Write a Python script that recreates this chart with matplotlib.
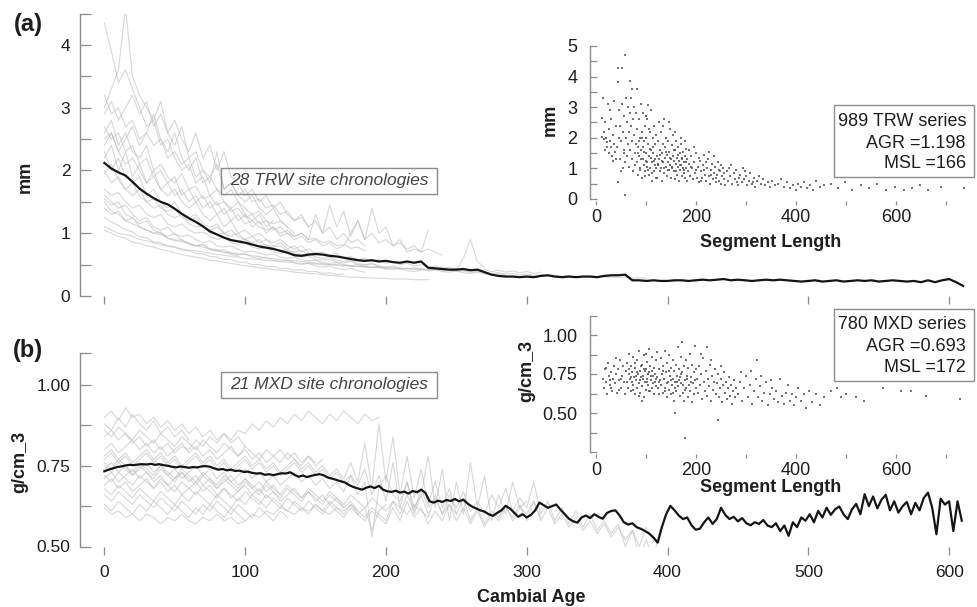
import numpy as np
import matplotlib
matplotlib.use('Agg')
import matplotlib.pyplot as plt
from matplotlib.patches import Rectangle

plt.rcParams['font.family'] = ['Liberation Sans', 'DejaVu Sans']

W, H = 977, 607

# ---------------- data ----------------
STEP_SITE = 5        # years between stored values of site chronologies
STEP_TRW_MEAN = 5
STEP_MXD_MEAN = 3

trw_mean = [2.12,2.03,1.97,1.92,1.82,1.71,1.63,1.56,1.50,1.46,
            1.39,1.31,1.24,1.18,1.11,1.03,0.98,0.93,0.89,0.87,
            0.85,0.82,0.79,0.77,0.75,0.72,0.69,0.65,0.64,0.66,
            0.67,0.66,0.64,0.63,0.61,0.59,0.57,0.56,0.57,0.55,
            0.56,0.54,0.53,0.55,0.53,0.55,0.45,0.44,0.43,0.42,
            0.42,0.43,0.41,0.42,0.38,0.34,0.32,0.31,0.31,0.30,
            0.31,0.30,0.32,0.33,0.31,0.30,0.31,0.30,0.31,0.31,
            0.30,0.32,0.33,0.33,0.34,0.25,0.25,0.24,0.25,0.24,
            0.24,0.25,0.25,0.24,0.25,0.26,0.25,0.26,0.27,0.25,
            0.26,0.25,0.24,0.25,0.26,0.25,0.26,0.25,0.24,0.23,
            0.24,0.25,0.23,0.24,0.25,0.23,0.24,0.25,0.24,0.25,
            0.23,0.24,0.25,0.24,0.23,0.24,0.22,0.25,0.22,0.25,
            0.27,0.22,0.16]

mxd_mean = [0.733,0.738,0.742,0.746,0.748,0.751,0.753,0.752,0.754,0.755,0.754,0.756,0.753,0.755,0.752,0.750,0.747,0.745,0.748,0.746,0.744,
            0.746,0.745,0.748,0.749,0.747,0.742,0.738,0.740,0.736,0.738,0.734,0.735,0.731,0.732,0.728,0.726,0.727,0.722,0.724,0.721,
            0.724,0.727,0.726,0.730,0.722,0.716,0.720,0.715,0.719,0.722,0.724,0.720,0.713,0.710,0.706,0.702,0.698,0.690,0.684,0.680,
            0.676,0.682,0.686,0.681,0.688,0.676,0.671,0.669,0.673,0.667,0.670,0.664,0.672,0.668,0.676,0.666,0.640,0.636,0.642,0.638,
            0.644,0.641,0.647,0.640,0.645,0.633,0.624,0.618,0.612,0.608,0.600,0.595,0.604,0.612,0.626,0.618,0.605,0.592,0.600,0.590,
            0.598,0.612,0.636,0.628,0.620,0.625,0.630,0.614,0.600,0.586,0.578,0.574,0.590,0.596,0.588,0.600,0.592,0.586,0.604,0.610,
            0.612,0.596,0.575,0.568,0.572,0.560,0.555,0.548,0.540,0.528,0.512,0.560,0.600,0.626,0.612,0.596,0.585,0.590,0.566,0.552,
            0.555,0.575,0.590,0.570,0.585,0.620,0.598,0.585,0.592,0.578,0.588,0.572,0.566,0.575,0.570,0.582,0.565,0.560,0.572,0.548,
            0.565,0.533,0.575,0.560,0.590,0.580,0.600,0.575,0.610,0.590,0.620,0.598,0.615,0.624,0.600,0.585,0.615,0.632,0.600,0.662,
            0.625,0.655,0.618,0.645,0.660,0.612,0.640,0.605,0.625,0.638,0.600,0.635,0.612,0.650,0.667,0.620,0.538,0.648,0.630,0.640,
            0.548,0.640,0.580]

trw_site_01 = [4.35,3.9,3.4,3.6,3.3,3.0,2.7,2.8,2.4,2.5,2.2,2.0,2.1,1.8,1.9,1.6,1.7,1.5,1.4,1.5,1.3,1.2,1.3,1.1,1.2]
trw_site_02 = [3.0,3.3,3.6,4.6,3.5,3.2,3.0,2.8,3.1,2.6,2.4,2.7,2.2,2.3,2.0,1.9,2.1,1.7,1.8,1.6,1.5,1.6,1.4,1.3,1.4,1.2,1.1]
trw_site_03 = [2.9,3.1,2.8,3.0,3.2,2.9,3.1,2.7,2.9,2.6,2.8,2.5,2.3,2.6,2.2,2.4,2.0,2.3,1.9,1.8,1.6,1.7,1.5,1.6,1.4,1.5,1.3,1.2,1.3,1.1,1.2,1.0,1.1,0.9,1.0,0.85,0.9,0.8]
trw_site_04 = [2.7,2.5,2.6,2.3,2.4,2.1,2.2,1.9,2.0,1.8,1.9,1.6,1.7,1.5,1.6,1.4,1.5,1.3,1.4,1.2,1.3,1.1,1.2,1.0,1.1,0.95,1.0,0.9,0.95,0.85,0.9,0.8,0.85,0.75,0.8,1.0,1.2,0.9,1.4,1.0,1.1,0.8,0.9,0.7,0.75,0.7,1.05]
trw_site_05 = [2.5,2.6,2.3,2.1,2.2,2.0,1.8,1.9,1.7,1.6,1.7,1.5,1.4,1.5,1.3,1.2,1.3,1.1,1.2,1.0,1.05,0.95,1.0,0.9,0.85,0.9,0.8,0.75,0.8,0.7]
trw_site_06 = [2.3,2.0,2.2,1.9,1.8,1.9,1.6,1.7,1.5,1.4,1.5,1.3,1.25,1.3,1.15,1.1,1.15,1.0,1.05,0.95,0.9,0.95,0.85,0.9,0.8,0.85,0.75,0.8,0.7,0.75,0.68,0.7,0.65,0.68,0.6,0.63,0.58,0.6,0.55,0.58,0.52,0.55,0.5,0.52,0.48,0.5,0.45,0.48,0.44,0.46,0.42,0.6,0.9,0.55,0.45]
trw_site_07 = [1.95,2.1,1.85,1.7,1.8,1.6,1.5,1.55,1.4,1.35,1.4,1.25,1.2,1.25,1.1,1.05,1.1,1.0,0.95,1.0,0.9,0.85,0.9,0.8,0.78,0.8,0.72,0.7,0.73,0.66,0.64]
trw_site_08 = [1.7,1.6,1.65,1.5,1.4,1.45,1.3,1.25,1.3,1.15,1.1,1.15,1.05,1.0,1.02,0.95,0.9,0.93,0.85,0.82,0.85,0.78,0.75,0.77,0.7,0.68,0.7,0.64,0.62,0.64,0.58,0.57,0.59,0.54,0.53,0.55,0.5,0.49,0.51,0.47]
trw_site_09 = [1.6,1.5,1.4,1.45,1.3,1.2,1.25,1.1,1.05,1.1,0.98,0.95,0.97,0.9,0.85,0.88,0.8,0.78,0.8,0.74,0.7,0.72,0.68,0.65,0.67,0.62,0.6,0.62,0.58,0.56,0.57,0.53,0.52,0.53,0.5,0.48,0.5,0.46,0.45,0.47,0.43,0.42,0.44,0.4,0.39,0.41]
trw_site_10 = [1.5,1.35,1.3,1.2,1.25,1.1,1.05,1.0,1.02,0.92,0.88,0.9,0.82,0.8,0.82,0.75,0.72,0.74,0.68,0.66,0.68,0.62,0.6,0.62,0.57,0.55,0.57,0.53,0.5,0.52,0.48,0.46,0.48,0.44,0.42,0.44,0.4,0.38]
trw_site_11 = [1.25,1.18,1.12,1.06,1.02,0.94,0.93,0.86,0.85,0.79,0.78,0.73,0.72,0.68,0.67,0.63,0.62,0.58,0.58,0.54,0.54,0.5,0.5,0.47,0.47,0.44,0.44,0.41,0.42,0.39,0.39,0.36,0.37,0.34,0.35]
trw_site_12 = [1.05,1.0,0.95,0.92,0.86,0.84,0.8,0.78,0.74,0.72,0.69,0.66,0.64,0.62,0.6,0.57,0.56,0.54,0.52,0.5,0.48,0.47,0.45,0.44,0.42,0.41,0.4,0.38,0.37,0.36,0.35,0.34,0.33,0.32,0.31,0.3,0.3,0.29,0.29,0.28,0.28,0.27,0.27,0.27,0.26,0.26,0.26]
trw_site_13 = [1.4,1.3,1.35,1.2,1.15,1.1,1.05,1.0,0.98,0.92,0.9,0.86,0.84,0.8,0.78,0.75,0.74,0.7,0.69,0.67,0.66,0.64,0.63,0.6,0.6,0.58,0.57,0.56,0.55,0.54,0.52,0.52,0.5,0.5,0.49,0.48,0.47,0.47,0.46,0.45,0.44,0.45,0.43,0.44,0.42,0.43,0.41,0.42,0.4,0.41,0.39,0.4,0.38,0.39,0.37,0.36,0.37,0.35,0.36,0.34,0.35,0.33,0.34,0.32,0.33,0.31,0.32,0.3,0.31,0.3,0.31,0.3,0.3,0.29,0.3,0.28,0.29,0.28]
trw_site_14 = [2.2,2.4,2.0,2.3,1.9,2.1,1.8,2.0,1.7,1.8,1.6,1.7,1.5,1.6,1.4,1.5,1.3,1.4,1.2,1.3,1.15,1.2,1.1,1.05,1.1,1.0,1.05,0.95,1.0,0.9,1.3,1.0,1.45,1.1,1.35,0.95,1.2,0.9,1.0,0.85,0.9,0.8,0.85,0.75,0.8,0.7,0.75,0.7,0.65]
trw_site_15 = [3.2,2.9,3.0,2.7,2.8,2.5,2.6,2.4,2.5,2.2,2.3,2.1,2.2,1.9,2.0,1.8,2.3,1.7,1.8,1.6,1.7,1.5,1.55,1.4,1.45,1.3,1.35,1.2,1.25,1.1]
trw_site_16 = [2.6,2.8,2.4,2.6,2.3,2.2,2.4,2.0,2.1,1.9,1.8,1.95,1.7,1.75,1.55,1.6,1.45,1.5,1.35,1.4,1.25,1.3,1.15,1.2,1.05,1.1,1.0,0.95,1.0,0.9,0.92,0.85,0.88,0.8,0.82,0.76,0.78,0.72]
trw_site_17 = [1.1,1.05,1.0,0.98,0.95,0.9,0.88,0.85,0.82,0.8,0.78,0.75,0.73,0.72,0.7,0.68,0.66,0.65,0.63,0.62,0.6,0.59,0.58,0.57,0.56,0.55,0.54,0.53,0.52,0.52,0.51,0.5,0.5,0.49,0.48,0.48,0.47,0.47,0.46,0.46,0.45,0.45,0.44,0.44,0.43,0.44,0.42,0.43,0.45,0.42,0.44,0.41,0.43,0.4,0.42,0.39,0.41,0.38,0.4,0.37,0.39,0.36,0.38]
trw_site_18 = [2.4,2.6,2.3,2.5,2.7,2.4,2.6,2.9,2.5,2.3,2.6,2.2,2.0,2.2,1.8,1.9,1.7,1.6,1.7,1.5,1.4,1.3,1.35,1.2,1.15,1.2,1.1,1.0]
trw_site_19 = [1.55,1.45,1.5,1.3,1.25,1.15,1.2,1.05,1.0,0.95,1.0,0.88,0.85,0.8,0.82,0.74,0.72,0.7,0.66,0.64]
trw_site_20 = [2.0,1.8,1.9,1.7,1.6,1.7,1.5,1.4,1.45,1.3,1.25,1.3,1.15,1.1,1.12,1.0,0.98,1.0,0.9,0.88,0.9,0.82,0.8,0.82,0.75,0.72,0.74,0.68,0.66,0.68,0.62,0.6,0.62,0.57,0.55,0.57,0.52,0.5,0.52,0.48,0.46,0.48,0.45,0.43,0.45,0.42,0.4,0.42,0.39,0.38,0.4,0.37,0.36,0.38,0.35,0.34,0.36,0.33]

mxd_site_01 = [0.90,0.92,0.89,0.93,0.90,0.91,0.88,0.90,0.87,0.89,0.86,0.88,0.85,0.87,0.84,0.86,0.83,0.85,0.82,0.84,0.81]
mxd_site_02 = [0.88,0.86,0.90,0.87,0.91,0.88,0.86,0.89,0.85,0.87,0.84,0.86,0.83]
mxd_site_03 = [0.84,0.86,0.83,0.85,0.82,0.84,0.81,0.83,0.80,0.82,0.79,0.81,0.80,0.83,0.81,0.84,0.82,0.85,0.83,0.86,0.85,0.88,0.86,0.89,0.87,0.90,0.88,0.91,0.89,0.92,0.90,0.88,0.91,0.89,0.92,0.90,0.88,0.91,0.89,0.90]
mxd_site_04 = [0.78,0.80,0.77,0.79,0.76,0.78,0.80,0.77,0.79,0.76,0.78,0.75,0.77,0.79,0.76,0.78,0.75,0.77,0.74,0.76,0.78,0.75,0.77,0.74,0.76,0.73,0.75,0.77,0.74,0.76,0.73,0.75,0.72,0.74,0.71,0.76,0.70,0.82,0.68,0.88,0.70,0.84,0.66,0.78,0.65,0.74,0.63,0.70,0.62,0.68,0.60]
mxd_site_05 = [0.76,0.74,0.77,0.75,0.73,0.76,0.74,0.72,0.75,0.73,0.71,0.74,0.72,0.70,0.73,0.71,0.69,0.72,0.70,0.68,0.71,0.69,0.67,0.70,0.68,0.66,0.69,0.67,0.65,0.68,0.66,0.64,0.67,0.65,0.63,0.66,0.64,0.62,0.65,0.63,0.61,0.64,0.62,0.60,0.63,0.61,0.59,0.66,0.60,0.63,0.58,0.62,0.57,0.61,0.56,0.60,0.58,0.62,0.59,0.63,0.58,0.64,0.59]
mxd_site_06 = [0.72,0.70,0.73,0.71,0.69,0.72,0.70,0.68,0.71,0.69,0.67,0.70,0.68,0.66,0.69,0.67,0.65,0.68,0.66,0.64,0.67,0.65,0.63,0.66,0.64,0.62,0.65,0.63,0.61,0.64,0.62,0.60,0.63,0.61,0.59,0.62,0.60,0.58,0.61,0.59,0.57,0.62,0.58,0.64,0.59,0.62,0.57,0.61,0.58,0.63,0.60,0.65,0.58,0.62,0.57,0.61,0.59,0.63,0.58,0.62,0.60,0.64,0.58,0.62,0.57,0.60,0.56,0.59,0.55,0.58,0.54,0.57,0.53,0.56,0.52,0.55,0.50,0.56,0.52]
mxd_site_07 = [0.63,0.61,0.64,0.62,0.60,0.63,0.61,0.64,0.62,0.60,0.63,0.61,0.59,0.62,0.60,0.63,0.61,0.59,0.62,0.60,0.58]
mxd_site_08 = [0.62,0.60,0.61,0.59,0.60,0.58,0.60,0.59,0.57,0.59,0.58,0.60,0.58,0.57,0.59,0.58,0.60,0.58,0.59,0.57,0.58,0.60,0.59,0.61,0.60,0.62,0.61,0.60,0.62,0.61,0.63,0.61,0.60,0.62,0.61,0.63,0.60,0.62,0.55,0.61,0.63]
mxd_site_09 = [0.80,0.82,0.79,0.81,0.83,0.80,0.82,0.79,0.81,0.78,0.80,0.82,0.79,0.81,0.78,0.80,0.77,0.79,0.81,0.78,0.80,0.77,0.79,0.76,0.78,0.80,0.77,0.79,0.76,0.78,0.75,0.77]
mxd_site_10 = [0.74,0.76,0.73,0.75,0.72,0.74,0.76,0.73,0.75,0.72,0.74,0.71,0.73,0.75,0.72,0.74,0.71,0.73,0.70,0.72,0.74,0.71,0.73,0.70,0.72,0.69,0.71,0.73,0.70,0.72,0.69,0.71,0.68,0.70,0.67,0.72,0.66,0.70,0.53,0.68,0.72,0.66,0.64,0.70,0.62,0.66,0.60]
mxd_site_11 = [0.69,0.71,0.68,0.70,0.67,0.69,0.71,0.68,0.70,0.67,0.69,0.66,0.68,0.70,0.67,0.69,0.66,0.68,0.65,0.67,0.69,0.66,0.68,0.65,0.67,0.64,0.66,0.68,0.65,0.67,0.64,0.66,0.63,0.65,0.62,0.64,0.61]
mxd_site_12 = [0.66,0.64,0.67,0.65,0.63,0.66,0.64,0.62,0.65,0.63,0.61,0.64,0.62,0.60,0.63,0.61,0.64,0.62,0.60,0.63,0.61,0.59,0.62,0.60,0.58,0.61,0.59]
mxd_site_13 = [0.77,0.79,0.76,0.78,0.75,0.77,0.79,0.76,0.78,0.75,0.77,0.74,0.76,0.78,0.75,0.77,0.74,0.76,0.73,0.75,0.77,0.74,0.76,0.73,0.75,0.72,0.74,0.76,0.73,0.75,0.72,0.74,0.71,0.73,0.70,0.72,0.69,0.74,0.66,0.72,0.64,0.76,0.62,0.70,0.60,0.66,0.78,0.62,0.74,0.58,0.70,0.60,0.76,0.62,0.72,0.58,0.66,0.60,0.70,0.62,0.64]
mxd_site_14 = [0.71,0.73,0.70,0.72,0.74,0.71,0.73,0.70,0.72,0.69,0.71,0.73,0.70,0.72,0.69,0.71,0.68,0.70,0.72,0.69,0.71,0.68,0.70,0.67,0.69,0.66]
mxd_site_15 = [0.86,0.84,0.87,0.85,0.83,0.86,0.84,0.82,0.85,0.83,0.81,0.84,0.82,0.80,0.83,0.81,0.79,0.82,0.80,0.78,0.81,0.79,0.77,0.80,0.78,0.76,0.79,0.77,0.75,0.78,0.76]
mxd_site_16 = [0.68,0.66,0.69,0.67,0.65,0.68,0.66,0.64,0.67,0.65,0.63,0.66,0.64,0.67,0.65,0.63,0.66,0.64,0.62,0.65,0.63,0.66,0.64,0.62,0.65,0.63,0.61,0.64,0.62,0.60,0.63,0.61,0.64,0.62,0.60,0.63,0.61,0.59,0.62,0.60,0.58,0.64,0.60,0.66,0.61,0.68,0.62,0.65,0.60,0.66,0.62,0.67,0.61,0.64,0.60,0.66,0.62,0.68,0.61,0.65,0.62,0.70,0.60,0.64,0.58,0.62,0.57,0.61,0.56,0.60,0.55,0.58,0.54,0.57,0.50,0.55,0.47,0.52,0.46,0.56]
mxd_site_17 = [0.75,0.73,0.76,0.74,0.72,0.75,0.73,0.71,0.74,0.72,0.70,0.73,0.71,0.69,0.72,0.70,0.68,0.71,0.69,0.67,0.70,0.68,0.66,0.69,0.67,0.65,0.68,0.66,0.64,0.67,0.65,0.63,0.66,0.64,0.62]

trw_scatter = [
    (12,2.65),(12,2.03),(14,3.3),(16,1.95),(18,1.6),(20,2.0),(22,1.85),(24,3.1),(25,1.5),(26,2.3),(28,1.9),(30,1.7),(30,2.6),(32,1.4),(34,2.1),(36,3.2),(36,1.8),(38,1.55),(40,2.4),(40,1.3),(15,2.2),(18,2.5),(22,1.7),(28,2.9),(33,1.25),
    (44,4.28),(52,4.28),(44,3.83),(58,4.7),(68,3.86),(72,3.6),(82,3.6),(46,2.9),(48,2.4),(50,1.9),(52,3.1),(54,2.2),(55,1.6),(56,2.7),(58,1.2),(58,0.13),(60,3.3),(60,2.0),(62,1.4),(62,2.5),(64,3.0),(64,1.8),(66,2.2),(66,1.05),(68,2.8),(68,1.6),(70,3.3),(70,2.4),(72,1.3),(72,1.9),(74,2.6),(74,0.9),(76,3.0),(76,2.1),(78,1.5),(78,1.1),(80,2.8),(80,1.8),(44,0.57),(48,1.3),(50,0.9),(54,1.0),(56,1.5),(42,1.7),(46,2.0),
    (82,2.3),(82,1.2),(84,1.7),(84,0.8),(86,2.6),(86,1.4),(88,2.0),(88,1.0),(90,3.1),(90,1.6),(92,2.2),(92,0.7),(94,1.3),(94,2.8),(96,1.9),(96,1.1),(98,2.4),(98,0.9),(100,1.5),(100,2.0),(102,1.2),(102,2.6),(104,3.07),(104,1.8),(106,0.8),(106,1.4),(108,2.2),(108,1.0),(110,1.6),(110,2.9),(112,1.2),(112,0.6),(114,2.0),(114,1.5),(116,0.9),(116,2.4),(118,1.3),(118,1.8),(120,1.0),(120,2.1),(85,1.9),(89,1.3),(93,1.7),(97,0.75),(101,1.05),(105,2.3),(109,1.35),(113,1.7),(117,1.1),(119,0.7),(83,1.5),(87,0.95),(91,2.0),(95,1.55),(99,1.25),(103,0.95),(107,1.65),(111,0.85),(115,1.25),(99,2.7),
    (122,1.4),(122,0.7),(124,1.9),(124,1.1),(126,2.5),(126,1.3),(128,0.9),(128,1.6),(130,2.2),(130,1.0),(132,1.5),(132,0.6),(134,1.8),(134,1.2),(136,2.6),(136,0.85),(138,1.35),(138,1.7),(140,1.05),(140,2.0),(142,1.45),(142,0.75),(144,1.2),(144,1.9),(146,0.95),(146,1.55),(148,2.3),(148,1.1),(150,1.3),(150,0.7),(152,1.75),(152,1.0),(154,1.4),(154,2.1),(156,0.9),(156,1.25),(158,1.6),(158,0.65),(160,1.15),(160,1.9),(162,1.35),(162,0.8),(164,1.05),(164,1.7),(166,1.25),(166,0.6),(168,1.5),(168,0.95),(170,1.1),(170,1.8),(172,0.75),(172,1.3),(174,1.0),(174,1.55),(176,0.85),(176,1.2),(178,1.4),(178,0.7),(180,1.0),(180,1.65),(123,1.15),(127,1.45),(131,1.25),(135,1.0),(139,1.55),(143,0.95),(147,1.35),(151,1.05),(155,1.6),(159,0.9),(163,1.45),(167,1.1),(171,1.35),(175,0.95),(179,1.2),(133,2.4),(145,2.5),(157,2.2),(169,2.0),(177,1.9),
    (182,1.3),(182,0.6),(184,0.9),(186,1.15),(188,0.75),(190,1.4),(192,1.0),(194,0.65),(196,1.2),(198,0.85),(200,1.5),(202,0.7),(204,1.05),(206,0.55),(208,1.25),(210,0.9),(212,0.7),(214,1.1),(216,1.45),(218,0.8),(220,0.6),(222,1.0),(224,1.3),(226,0.75),(228,0.5),(230,0.95),(232,1.15),(234,0.65),(236,0.85),(238,1.05),(240,0.55),(242,0.8),(244,1.2),(246,0.6),(248,0.9),(250,0.5),(252,0.75),(254,1.0),(256,0.65),(258,0.45),(185,1.6),(195,1.7),(205,1.35),(215,0.95),(225,1.55),(235,1.4),(245,0.95),(255,0.85),(189,1.05),(199,0.95),(209,0.6),(219,1.2),(229,0.8),(239,0.7),(249,1.1),
    (262,0.9),(264,0.6),(268,0.75),(270,1.1),(272,0.5),(276,0.85),(278,0.65),(280,0.95),(284,0.45),(286,0.7),(288,0.8),(292,0.55),(294,1.0),(296,0.65),(300,0.75),(302,0.45),(306,0.6),(308,0.85),(312,0.5),(316,0.7),(318,0.4),(322,0.6),(326,0.75),(330,0.5),(334,0.65),(338,0.45),(266,1.0),(282,0.55),(298,0.9),(314,0.55),
    (344,0.55),(348,0.4),(352,0.6),(358,0.45),(364,0.5),(370,0.65),(376,0.4),(382,0.55),(388,0.35),(394,0.45),(400,0.3),(404,0.5),(410,0.4),(416,0.55),(422,0.35),(428,0.45),(434,0.3),(440,0.6),(448,0.4),(456,0.45),
    (470,0.5),(484,0.35),(498,0.55),(512,0.3),(530,0.45),(546,0.35),(562,0.5),(580,0.3),(598,0.4),(616,0.3),(632,0.35),(648,0.45),(664,0.3),(690,0.4),(735,0.35)]

mxd_scatter = [
    (14,0.72),(16,0.66),(18,0.78),(20,0.70),(22,0.62),(24,0.82),(26,0.74),(28,0.68),(30,0.76),(32,0.64),(34,0.72),(36,0.80),(38,0.69),(40,0.75),(42,0.63),(44,0.78),(46,0.71),(48,0.84),(50,0.66),(52,0.74),(54,0.80),(56,0.70),(58,0.62),(60,0.77),(20,0.79),(30,0.66),(40,0.85),(50,0.72),(27,0.71),(45,0.65),
    (62,0.70),(62,0.82),(64,0.66),(66,0.75),(66,0.88),(68,0.72),(70,0.64),(70,0.80),(72,0.76),(74,0.68),(74,0.86),(76,0.73),(78,0.62),(78,0.79),(80,0.71),(82,0.84),(82,0.66),(84,0.75),(86,0.69),(86,0.90),(88,0.77),(88,0.63),(90,0.73),(92,0.81),(92,0.67),(94,0.74),(96,0.60),(96,0.87),(98,0.70),(100,0.78),(100,0.65),(102,0.83),(102,0.72),(104,0.68),(106,0.76),(106,0.91),(108,0.64),(108,0.80),(110,0.71),(112,0.86),(112,0.66),(114,0.74),(116,0.62),(116,0.79),(118,0.70),(120,0.84),(120,0.67),(65,0.78),(69,0.73),(73,0.65),(77,0.82),(81,0.76),(85,0.61),(89,0.80),(93,0.72),(97,0.77),(101,0.70),(105,0.64),(109,0.74),(113,0.69),(117,0.75),(71,0.70),(79,0.74),(87,0.71),(95,0.78),(103,0.75),(111,0.77),(119,0.72),(91,0.58),(99,0.88),
    (122,0.73),(122,0.89),(124,0.66),(126,0.78),(126,0.62),(128,0.71),(130,0.85),(130,0.68),(132,0.75),(134,0.63),(134,0.80),(136,0.72),(138,0.90),(138,0.66),(140,0.76),(142,0.60),(142,0.82),(144,0.70),(146,0.87),(146,0.65),(148,0.74),(150,0.79),(150,0.62),(152,0.68),(154,0.84),(154,0.72),(156,0.58),(156,0.77),(158,0.50),(158,0.70),(160,0.81),(160,0.64),(162,0.74),(164,0.92),(164,0.67),(166,0.78),(168,0.61),(168,0.73),(170,0.86),(170,0.69),(172,0.955),(172,0.76),(174,0.63),(176,0.80),(176,0.58),(178,0.34),(178,0.71),(180,0.84),(180,0.66),(182,0.74),(184,0.60),(184,0.79),(186,0.68),(188,0.88),(188,0.64),(190,0.73),(192,0.57),(192,0.81),(194,0.69),(196,0.76),(196,0.62),(198,0.93),(198,0.71),(200,0.66),(200,0.78),(125,0.70),(133,0.77),(141,0.69),(149,0.71),(157,0.66),(165,0.71),(173,0.68),(181,0.72),(189,0.70),(137,0.64),(145,0.77),(153,0.63),(161,0.70),(169,0.75),(177,0.65),
    (202,0.72),(204,0.63),(206,0.80),(208,0.68),(210,0.75),(212,0.59),(214,0.85),(216,0.70),(218,0.64),(220,0.77),(222,0.92),(222,0.61),(224,0.72),(226,0.67),(228,0.81),(230,0.58),(232,0.74),(234,0.65),(236,0.70),(238,0.78),(240,0.62),(242,0.69),(244,0.455),(244,0.75),(246,0.60),(248,0.66),(250,0.72),(252,0.57),(254,0.68),(256,0.76),(258,0.63),(260,0.70),(262,0.59),(264,0.66),(266,0.73),(268,0.61),(270,0.68),(272,0.56),(274,0.64),(276,0.71),(278,0.60),(280,0.66),(210,0.88),(230,0.84),(250,0.80),
    (284,0.62),(288,0.70),(292,0.58),(296,0.66),(300,0.74),(304,0.60),(308,0.68),(312,0.56),(316,0.64),(320,0.72),(321,0.84),(324,0.60),(328,0.67),(332,0.58),(336,0.63),(340,0.70),(344,0.55),(348,0.62),(352,0.66),(356,0.59),(360,0.64),(364,0.57),(368,0.72),(372,0.61),(376,0.56),(380,0.63),(384,0.68),(388,0.58),(392,0.62),(396,0.55),(400,0.60),(290,0.76),(310,0.77),(330,0.74),(350,0.71),
    (404,0.66),(410,0.58),(416,0.62),(420,0.53),(426,0.64),(432,0.57),(440,0.62),(448,0.55),(456,0.60),(470,0.64),(481,0.66),(490,0.60),(500,0.62),(520,0.60),(535,0.58),(573,0.66),(610,0.64),(630,0.64),(660,0.61),(728,0.59)]

trw_sites = [trw_site_01, trw_site_02, trw_site_03, trw_site_04, trw_site_05, trw_site_06, trw_site_07,
             trw_site_08, trw_site_09, trw_site_10, trw_site_11, trw_site_12, trw_site_13, trw_site_14,
             trw_site_15, trw_site_16, trw_site_17, trw_site_18, trw_site_19, trw_site_20]
mxd_sites = [mxd_site_01, mxd_site_02, mxd_site_03, mxd_site_04, mxd_site_05, mxd_site_06, mxd_site_07,
             mxd_site_08, mxd_site_09, mxd_site_10, mxd_site_11, mxd_site_12, mxd_site_13, mxd_site_14,
             mxd_site_15, mxd_site_16, mxd_site_17]

trw_seg_len, trw_seg_mm = zip(*trw_scatter)
mxd_seg_len, mxd_seg_dens = zip(*mxd_scatter)

trw_box_lines = ["989 TRW series", "AGR =1.198", "MSL =166"]
mxd_box_lines = ["780 MXD series", "AGR =0.693", "MSL =172"]

# ---------------- styling ----------------
SPINE = '#8c8c8c'
GRAY = '#b8b8b8'
BLACK = '#151515'
TXT = '#1e1e1e'

fig = plt.figure(figsize=(W / 100, H / 100), dpi=100)


def rect(l, t, r, b):
    return [l / W, 1 - b / H, (r - l) / W, (b - t) / H]


def style(ax, xout, xlen, ylen, xpad, ypad, lsize):
    ax.set_facecolor('none')
    for s in ('top', 'right'):
        ax.spines[s].set_visible(False)
    ax.spines['left'].set_color(SPINE)
    ax.spines['left'].set_linewidth(1.0)
    ax.spines['bottom'].set_position(('outward', xout))
    ax.spines['bottom'].set_visible(False)
    ax.tick_params(axis='y', direction='in', length=ylen, width=0.9, color=SPINE,
                   labelsize=lsize, pad=ypad, labelcolor=TXT)
    ax.tick_params(axis='x', direction='in', length=xlen, width=0.9, color=SPINE,
                   labelsize=lsize, pad=xpad, labelcolor=TXT)


# ----- panel (a) -----
axa = fig.add_axes(rect(80, 13.6, 966, 296))
for s in trw_sites:
    axa.plot(np.arange(len(s)) * STEP_SITE, s, color=GRAY, lw=0.8, alpha=0.55)
axa.plot(np.arange(len(trw_mean)) * STEP_TRW_MEAN, trw_mean, color=BLACK, lw=1.6)
axa.set_xlim(-17.3, 612)
axa.set_ylim(0, 4.5)
style(axa, 6, 5.5, 8, 7, 7, 12.5)
axa.set_xticks(np.arange(0, 601, 100))
axa.set_xticklabels([])
axa.set_yticks(np.arange(0, 4.51, 0.5))
axa.set_yticklabels(['0', '', '1', '', '2', '', '3', '', '4', ''])

# ----- panel (b) -----
axb = fig.add_axes(rect(80, 352.8, 966, 546.5))
for s in mxd_sites:
    axb.plot(np.arange(len(s)) * STEP_SITE, s, color=GRAY, lw=0.8, alpha=0.55)
axb.plot(np.arange(len(mxd_mean)) * STEP_MXD_MEAN, mxd_mean, color=BLACK, lw=1.6)
axb.set_xlim(-17.3, 612)
axb.set_ylim(0.5, 1.1)
style(axb, 6, 5.5, 8, 7, 7, 12.5)
axb.set_xticks(np.arange(0, 601, 100))
axb.set_yticks([0.5, 0.625, 0.75, 0.875, 1.0, 1.1])
axb.set_yticklabels(['0.50', '', '0.75', '', '1.00', ''])

# ----- inset (a) -----
ia = fig.add_axes(rect(590, 46, 968.5, 199))
ia.scatter(trw_seg_len, trw_seg_mm, s=2.6, c='#505050', marker='s', linewidths=0, alpha=0.8)
ia.set_xlim(-12, 745)
ia.set_ylim(0, 5)
style(ia, 4, 3, 5, 3, 9, 13)
ia.set_xticks(np.arange(0, 701, 100))
ia.set_xticklabels(['0', '', '200', '', '400', '', '600', ''])
ia.set_yticks(np.arange(0, 5.01, 0.5))
ia.set_yticklabels(['0', '', '1', '', '2', '', '3', '', '4', '', '5'])

# ----- inset (b) -----
ib = fig.add_axes(rect(590, 315.5, 968.5, 452))
ib.scatter(mxd_seg_len, mxd_seg_dens, s=2.6, c='#505050', marker='s', linewidths=0, alpha=0.8)
ib.set_xlim(-12, 745)
ib.set_ylim(0.25, 1.125)
style(ib, 4, 3, 5, 3, 9, 13)
ib.set_xticks(np.arange(0, 701, 100))
ib.set_xticklabels(['0', '', '200', '', '400', '', '600', ''])
ib.set_yticks([0.25, 0.375, 0.5, 0.625, 0.75, 0.875, 1.0, 1.125])
ib.set_yticklabels(['', '', '0.50', '', '0.75', '', '1.00', ''])


def ftext(x, y, s, **kw):
    fig.text(x / W, 1 - y / H, s, **kw)


def fbox(l, t, r, b):
    fig.patches.append(Rectangle((l / W, 1 - b / H), (r - l) / W, (b - t) / H,
                                 transform=fig.transFigure, fill=False,
                                 edgecolor='#8c8c8c', lw=1.0))


# panel letters and axis labels
ftext(28, 25, '(a)', fontsize=17, fontweight='bold', ha='center', va='center', color=TXT)
ftext(28, 351, '(b)', fontsize=17, fontweight='bold', ha='center', va='center', color=TXT)
ftext(25, 177, 'mm', fontsize=13, fontweight='bold', rotation=90, ha='center', va='center', color=TXT)
ftext(20, 462, 'g/cm_3', fontsize=13, fontweight='bold', rotation=90, ha='center', va='center', color=TXT)
ftext(550, 120, 'mm', fontsize=13, fontweight='bold', rotation=90, ha='center', va='center', color=TXT)
ftext(527, 371, 'g/cm_3', fontsize=13, fontweight='bold', rotation=90, ha='center', va='center', color=TXT)
ftext(771, 242, 'Segment Length', fontsize=13, fontweight='bold', ha='center', va='center', color=TXT)
ftext(771, 488, 'Segment Length', fontsize=13, fontweight='bold', ha='center', va='center', color=TXT)
ftext(531, 597, 'Cambial Age', fontsize=13, fontweight='bold', ha='center', va='center', color=TXT)

# site chronology labels
fbox(221, 168, 437, 194)
ftext(329, 181, '28 TRW site chronologies', fontsize=12.5, style='italic', ha='center', va='center', color='#444444')
fbox(221, 372, 437, 398)
ftext(329, 385, '21 MXD site chronologies', fontsize=12.5, style='italic', ha='center', va='center', color='#444444')

# statistics boxes
fbox(834, 105, 974, 177)
for yy, s in zip([121, 143, 164], trw_box_lines):
    ftext(966, yy, s, fontsize=13, ha='right', va='center', color=TXT)
fbox(834, 309, 974, 381)
for yy, s in zip([325, 346.5, 367.5], mxd_box_lines):
    ftext(966, yy, s, fontsize=13, ha='right', va='center', color=TXT)

fig.savefig('out.png', dpi=100)
